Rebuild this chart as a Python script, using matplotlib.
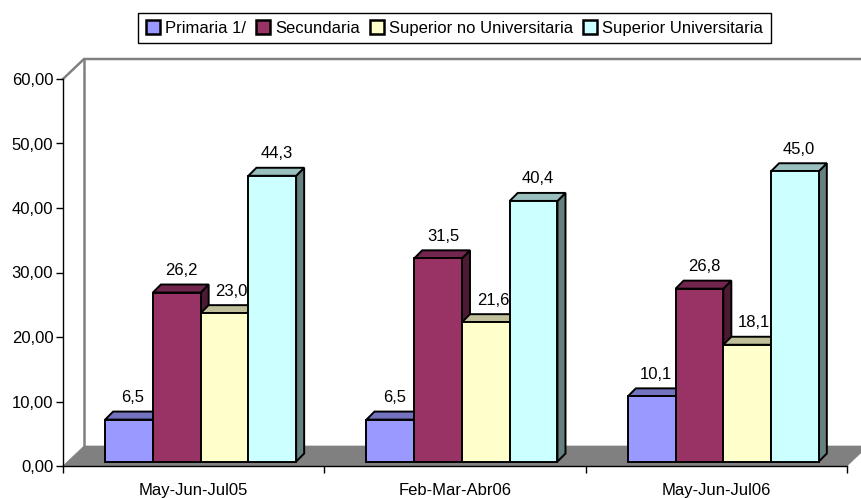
import matplotlib
matplotlib.use("Agg")
import matplotlib.pyplot as plt
from matplotlib.patches import Polygon, Rectangle
from matplotlib.transforms import IdentityTransform, offset_copy

categories = ["May-Jun-Jul05", "Feb-Mar-Abr06", "May-Jun-Jul06"]
series_names = ["Primaria 1/", "Secundaria", "Superior no Universitaria", "Superior Universitaria"]
primaria = [6.5, 6.5, 10.1]
secundaria = [26.2, 31.5, 26.8]
superior_no = [23.0, 21.6, 18.1]
superior_uni = [44.3, 40.4, 45.0]
series_values = [primaria, secundaria, superior_no, superior_uni]
front_colors = ["#9999FF", "#993366", "#FFFFCC", "#CCFFFF"]
top_colors = ["#7373BF", "#73264D", "#BFBF99", "#99BFBF"]
side_colors = ["#4D4D80", "#4D1A33", "#808066", "#668080"]
yticks = [0, 10, 20, 30, 40, 50, 60]

W, H = 861, 498
plt.rcParams["font.family"] = ["Liberation Sans"]
fig = plt.figure(figsize=(W / 100, H / 100), dpi=100)
x0, x1, y0, y1 = 63, 847, 466, 79
ax = fig.add_axes([x0 / W, 1 - y0 / H, (x1 - x0) / W, (y0 - y1) / H])
ax.set_xlim(0, 3)
ax.set_ylim(0, 60)
ax.patch.set_visible(False)
for s in ("top", "right"):
    ax.spines[s].set_visible(False)
for s in ("left", "bottom"):
    ax.spines[s].set_linewidth(1.0)
    ax.spines[s].set_zorder(20)

DX, DY = 21, 20  # wall depth in pixels
GRAY = "#808080"


def disp(x, y, dx=0, dy=0):
    px, py = ax.transData.transform((x, y))
    return (px + dx, py + dy)


def poly(points, **kw):
    ax.add_patch(Polygon(points, closed=True, transform=IdentityTransform(), clip_on=False, **kw))


# floor and walls
poly([disp(0, 0), disp(3, 0), disp(3, 0, DX, DY), disp(0, 0, DX, DY)], facecolor=GRAY, edgecolor=GRAY, lw=0.5, zorder=1)
ax.plot(*zip(disp(0, 60), disp(0, 60, DX, DY), disp(3, 60, DX, DY)), transform=IdentityTransform(),
        color=GRAY, lw=1.8, clip_on=False, zorder=1, solid_joinstyle="miter")
ax.plot(*zip(disp(0, 0, DX, DY), disp(0, 60, DX, DY)), transform=IdentityTransform(),
        color=GRAY, lw=1.8, clip_on=False, zorder=1)

# bars
bar_w = 47.75 / (784 / 3)
BX, BY = 7, 4.5  # shift of bar fronts into the depth
TX, TY = 8, 8    # bar depth
EDGE = dict(edgecolor="black", linewidth=1.4, joinstyle="miter")
z = 3
front_tf = offset_copy(ax.transData, fig=fig, x=BX, y=BY, units="dots")
for c in range(len(categories)):
    for i, vals in enumerate(series_values):
        v = vals[c]
        left = c + 0.5 + (i - 2) * bar_w
        right = left + bar_w
        poly([disp(right, 0, BX, BY), disp(right, 0, BX + TX, BY + TY),
              disp(right, v, BX + TX, BY + TY), disp(right, v, BX, BY)],
             facecolor=side_colors[i], zorder=z, **EDGE)
        poly([disp(left, v, BX, BY), disp(right, v, BX, BY),
              disp(right, v, BX + TX, BY + TY), disp(left, v, BX + TX, BY + TY)],
             facecolor=top_colors[i], zorder=z, **EDGE)
        ax.bar(left, v, width=bar_w, align="edge", color=front_colors[i], transform=front_tf,
               clip_on=False, zorder=z + 0.5, **EDGE)
        z += 1

# value labels (third series sits a little further right, against the next bar)
label_shift = [4, 5, 7, 4]
for c in range(len(categories)):
    for i, vals in enumerate(series_values):
        v = vals[c]
        cx = c + 0.5 + (i - 1.5) * bar_w
        ax.annotate(f"{v:.1f}".replace(".", ","), (cx, v), xytext=(BX + label_shift[i], BY + 22),
                    textcoords="offset pixels", ha="center", va="center", fontsize=12, color="black",
                    zorder=100, annotation_clip=False)

# axes ticks
ax.set_yticks(yticks)
ax.set_yticklabels([f"{t:.2f}".replace(".", ",") for t in yticks], fontsize=12)
ax.set_xticks([0, 1, 2, 3])
ax.set_xticklabels([])
ax.tick_params(axis="both", length=5, width=1.0, color="black", pad=2)
for c, name in enumerate(categories):
    ax.annotate(name, (c + 0.5, 0), xytext=(0, -24), textcoords="offset pixels", ha="center", va="center",
                fontsize=12, annotation_clip=False)

# legend
handles = [Rectangle((0, 0), 1, 1, facecolor=col, edgecolor="black", linewidth=1.8) for col in front_colors]
leg = fig.legend(handles, series_names, loc="center", bbox_to_anchor=(454.5 / W, 1 - 28 / H), ncol=4, frameon=True,
                 fontsize=12, handlelength=0.85, handleheight=0.85, handletextpad=0.3, columnspacing=0.6,
                 borderpad=0.45, fancybox=False, edgecolor="black", framealpha=1)
leg.get_frame().set_linewidth(1.0)

fig.savefig("out.png", dpi=100)
